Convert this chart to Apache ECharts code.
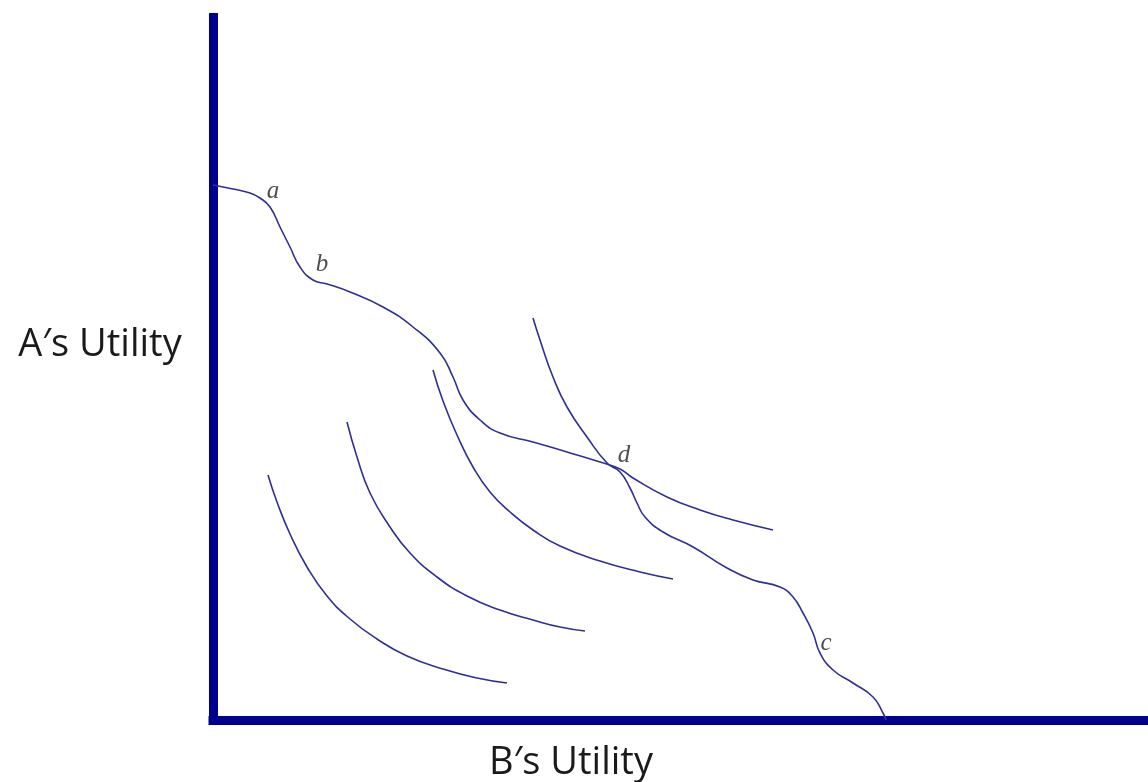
<!DOCTYPE html>
<html>
<head>
<meta charset="utf-8">
<script src="https://cdn.jsdelivr.net/npm/echarts@6/dist/echarts.min.js"></script>
<style>html,body{margin:0;padding:0;background:#fff}#c{width:1148px;height:782px}</style>
</head>
<body>
<div id="c"></div>
<script>
// Utility possibility frontier through a, b, d (ends right of d)
var frontierABD = [[0,535],[20,531],[37,527],[47,522],[57,513],[67,493],[77,473],[87,453],[100,440],[114,436],[137,428],[170,413],[200,393],[227,367],[240,343],[250,320],[267,300],[287,287],[320,278],[354,268],[387,258],[407,251],[420,242],[454,223],[487,210],[520,200],[560,190]];
// Frontier through d to c (reaches B's axis)
var frontierDC = [[320,402],[327,380],[340,343],[354,313],[374,283],[394,257],[407,248],[417,232],[424,217],[432,203],[450,188],[480,173],[514,152],[540,140],[567,133],[580,123],[590,107],[600,87],[607,67],[620,50],[640,37],[660,23],[670,7],[673,0]];
// Indifference-type curves, from innermost outward
var curve1 = [[55,245],[64,218],[77,186],[94,153],[114,124],[137,101],[164,81],[194,64],[230,51],[264,42],[294,37]];
var curve2 = [[134,298],[144,263],[157,227],[177,193],[197,167],[224,143],[254,124],[287,110],[320,100],[347,93],[372,89]];
var curve3 = [[220,350],[230,319],[244,285],[260,253],[277,228],[297,208],[320,190],[347,174],[387,159],[427,148],[460,141]];
// Point labels
var pointNames = ['a','b','d','c'];
var pointCoords = [[60,529],[109,456],[411,265],[613,77]];
var xTitle = 'B\u2032s Utility';
var yTitle = 'A\u2032s Utility';

var curveColor = '#2f2f96';
function lineSeries(d){
  return {type:'line', data:d, smooth:0.5, showSymbol:false, symbol:'none',
    lineStyle:{color:curveColor, width:1.6}, z:3, silent:true};
}
var chart = echarts.init(document.getElementById('c'), null, {renderer:'canvas'});
chart.setOption({
  animation:false,
  backgroundColor:'#ffffff',
  grid:{left:213, right:0, top:17.5, bottom:62, containLabel:false},
  xAxis:{type:'value', min:0, max:935, axisLine:{show:true, onZero:false, lineStyle:{color:'#00008e', width:9, cap:'square'}},
    axisTick:{show:false}, axisLabel:{show:false}, splitLine:{show:false}},
  yAxis:{type:'value', min:0, max:702.5, axisLine:{show:true, onZero:false, lineStyle:{color:'#00008e', width:9, cap:'square'}},
    axisTick:{show:false}, axisLabel:{show:false}, splitLine:{show:false}},
  graphic:[
    {type:'text', x:100, y:345, style:{text:yTitle, font:'38px "Open Sans"', fill:'#1a1a1a', textAlign:'center', textVerticalAlign:'middle'}},
    {type:'text', x:571, y:763, style:{text:xTitle, font:'38px "Open Sans"', fill:'#1a1a1a', textAlign:'center', textVerticalAlign:'middle'}}
  ],
  series:[
    lineSeries(frontierABD),
    lineSeries(frontierDC),
    lineSeries(curve1),
    lineSeries(curve2),
    lineSeries(curve3),
    {type:'scatter', symbolSize:0, silent:true, z:4,
      data: pointNames.map(function(n,i){return {name:n, value:pointCoords[i]};}),
      label:{show:true, position:'inside', formatter:'{b}', fontFamily:'"Liberation Serif", serif', fontStyle:'italic', fontSize:25, color:'#222222'}}
  ]
});
</script>
</body>
</html>
